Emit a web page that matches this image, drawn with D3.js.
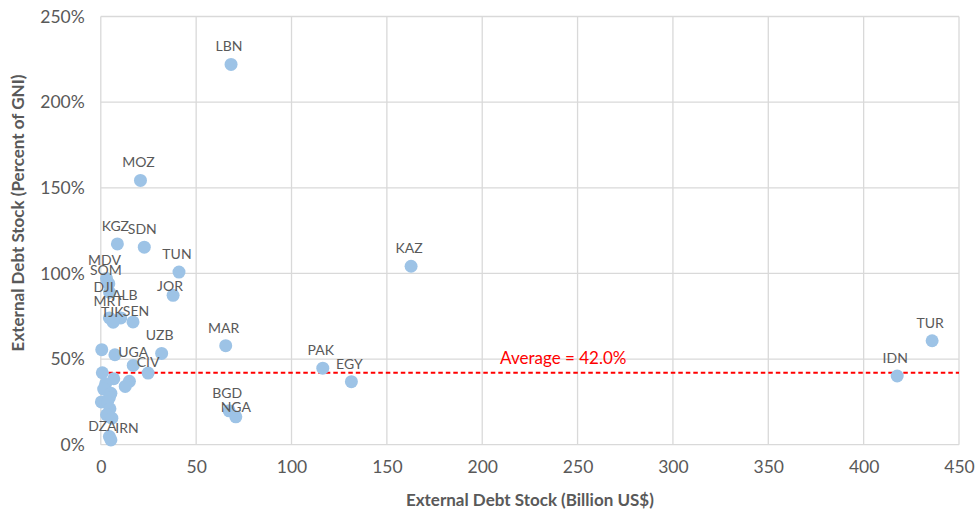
<!DOCTYPE html>
<html>
<head>
<meta charset="utf-8">
<script src="https://cdn.jsdelivr.net/npm/d3@7"></script>
<style>
  html, body { margin: 0; padding: 0; background: #fff; }
  svg { display: block; font-family: Lato, "Open Sans", sans-serif; }
</style>
</head>
<body>
<div id="chart"></div>
<script>
// external debt stock: level (bn US$) vs. share of GNI, one dot per country
const countries = ["LBN", "MOZ", "KGZ", "SDN", "TUN", "KAZ", "JOR", "MDV", "SOM", "DJI",
  "ALB", "MRT", "TJK", "SEN", "UZB", "MAR", "UGA", "CIV", "PAK", "EGY", "TUR", "IDN",
  "BGD", "NGA", "DZA", "IRN",
  "", "", "", "", "", "", "", "", "", "", "", "", "", "", ""];
const debtBn = [68.3, 20.8, 8.7, 22.8, 41.0, 162.7, 37.9, 3.0, 4.2, 4.6,
  10.5, 4.5, 6.5, 16.9, 31.9, 65.5, 17.0, 24.8, 116.4, 131.4, 435.9, 417.6,
  67.3, 70.8, 4.5, 5.3,
  0.5, 7.4, 0.8, 6.8, 15.0, 12.8, 2.5, 1.5, 5.3, 4.5, 0.3, 3.5, 4.8, 3.0, 5.8];
const debtPctGni = [222, 154.3, 117.2, 115.3, 100.8, 104.2, 87.2, 97, 94, 89,
  74, 74, 71.5, 71.7, 53.3, 57.8, 46.3, 41.8, 44.7, 36.8, 60.7, 40.1,
  19.8, 16.3, 4.8, 2.8,
  55.5, 52.5, 42.0, 38.5, 37.0, 34.0, 35.5, 32.5, 30.0, 27.5, 25.0, 25.0, 21.0, 17.5, 15.5];
const averagePct = 42.0;
const xTicks = [0, 50, 100, 150, 200, 250, 300, 350, 400, 450];
const yTicks = [0, 50, 100, 150, 200, 250];

// label nudges (px) where Excel labels were dragged off the default spot
const labelNudge = {
  JOR: [-3, -9], NGA: [0, -10], UGA: [0, -13], CIV: [0, -11], DZA: [-7, -10], IRN: [16, -12],
  SOM: [-3, -14], DJI: [-6, -5], ALB: [4, -23], MRT: [-1, -17], TJK: [-1, -10], SEN: [3, -11]
};

const W = 977, H = 512;
const margin = { top: 16.5, right: 18, bottom: 67.3, left: 100.8 };
const iw = W - margin.left - margin.right, ih = H - margin.top - margin.bottom;

const svg = d3.select("#chart").append("svg").attr("width", W).attr("height", H);
const g = svg.append("g").attr("transform", `translate(${margin.left},${margin.top})`);

const x = d3.scaleLinear().domain([0, 450]).range([0, iw]);
const y = d3.scaleLinear().domain([0, 250]).range([ih, 0]);

const grid = "#d9d9d9", ink = "#595959";

g.append("g").selectAll("line").data(xTicks).join("line")
  .attr("x1", d => x(d)).attr("x2", d => x(d)).attr("y1", 0).attr("y2", ih)
  .attr("stroke", grid).attr("stroke-width", 1.3);
g.append("g").selectAll("line").data(yTicks).join("line")
  .attr("x1", 0).attr("x2", iw).attr("y1", d => y(d)).attr("y2", d => y(d))
  .attr("stroke", grid).attr("stroke-width", 1.3);

const gx = g.append("g").attr("transform", `translate(0,${ih})`)
  .call(d3.axisBottom(x).tickValues(xTicks).tickSize(0).tickPadding(16).tickFormat(d3.format("d")));
const gy = g.append("g")
  .call(d3.axisLeft(y).tickValues(yTicks).tickSize(0).tickPadding(16).tickFormat(d => d + "%"));
[gx, gy].forEach(a => {
  a.select(".domain").remove();
  a.selectAll("text").attr("fill", ink).attr("font-size", 17.5).attr("font-family", "Lato, sans-serif");
});

// average line
g.append("line")
  .attr("x1", 0).attr("x2", iw).attr("y1", y(averagePct)).attr("y2", y(averagePct))
  .attr("stroke", "#ff0000").attr("stroke-width", 1.8).attr("stroke-dasharray", "4.5,3");
g.append("text")
  .attr("x", x(242.5)).attr("y", y(averagePct) - 9)
  .attr("text-anchor", "middle").attr("fill", "#ff0000").attr("font-size", 17)
  .text(`Average = ${averagePct.toFixed(1)}%`);

const pts = countries.map((c, i) => ({ c, bn: debtBn[i], pct: debtPctGni[i] }));

g.append("g").selectAll("circle").data(pts).join("circle")
  .attr("cx", d => x(d.bn)).attr("cy", d => y(d.pct)).attr("r", 6.5)
  .attr("fill", "#9dc3e6");

g.append("g").selectAll("text").data(pts.filter(d => d.c)).join("text")
  .attr("x", d => x(d.bn) + (labelNudge[d.c] ? labelNudge[d.c][0] : -2))
  .attr("y", d => y(d.pct) + (labelNudge[d.c] ? labelNudge[d.c][1] : -18))
  .attr("dy", "0.35em").attr("text-anchor", "middle")
  .attr("fill", ink).attr("font-size", 14)
  .text(d => d.c);

// axis titles
svg.append("text")
  .attr("x", margin.left + iw / 2).attr("y", 500).attr("dy", "0.35em")
  .attr("text-anchor", "middle").attr("fill", ink).attr("font-size", 17).attr("font-weight", "bold")
  .text("External Debt Stock (Billion US$)");
svg.append("text")
  .attr("transform", "translate(18,213) rotate(-90)").attr("dy", "0.35em")
  .attr("text-anchor", "middle").attr("fill", ink).attr("font-size", 17).attr("font-weight", "bold")
  .text("External Debt Stock (Percent of GNI)");
</script>
</body>
</html>
